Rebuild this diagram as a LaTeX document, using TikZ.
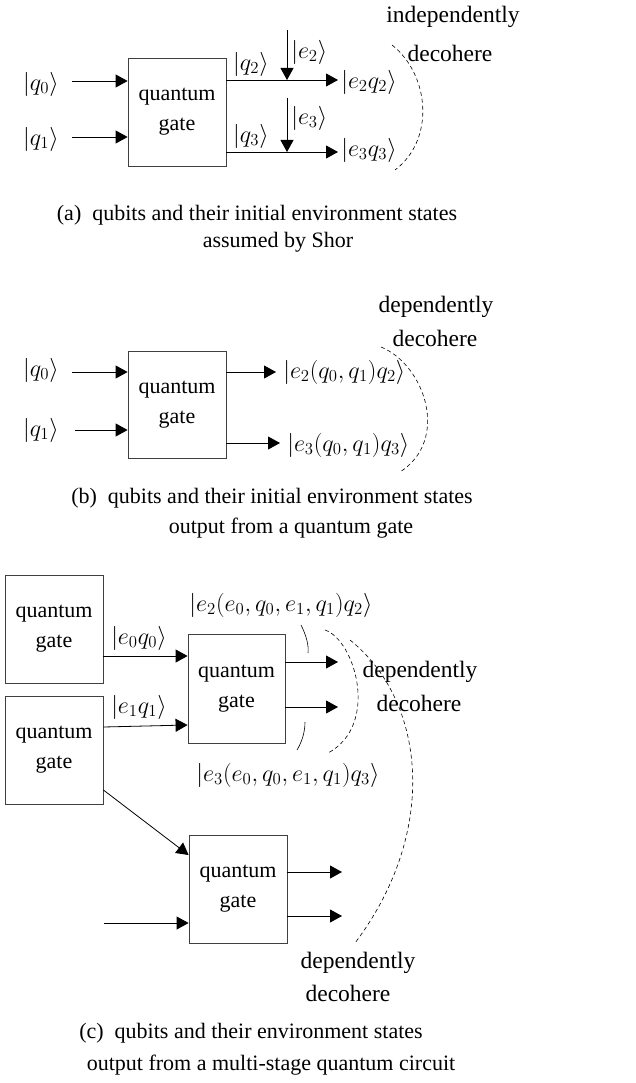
\documentclass[tikz,border=0pt]{standalone}
\usepackage{fontspec}
\setmainfont{Liberation Serif}
\usetikzlibrary{arrows.meta}
\tikzset{
 gate/.style={draw=black!75, line width=0.8pt, minimum width=98pt, minimum height=108pt, inner sep=0pt, align=center, font=\fontsize{22}{30}\selectfont},
 arr/.style={line width=0.8pt, -{Triangle[length=12pt,width=13pt]}},
 lbl/.style={font=\fontsize{17.28}{20}\selectfont, inner sep=0pt, scale=1.4},
 note/.style={font=\fontsize{23.5}{28}\selectfont, inner sep=0pt},
 captxt/.style={font=\fontsize{22}{26}\selectfont, inner sep=0pt},
 dec/.style={line width=0.6pt, dash pattern=on 4pt off 3pt},
 brc/.style={line width=0.6pt}
}
\begin{document}
\begin{tikzpicture}[x=1pt,y=-1pt]
\useasboundingbox (0,0) rectangle (635,1083);
% ---------- (a)
\node[gate] (ga) at (177,112) {quantum\\gate};
\node[lbl] (qa0) at (41,84) {$|q_0\rangle$};
\node[lbl] (qa1) at (41,139) {$|q_1\rangle$};
\coordinate (qa0s) at (72,81);
\coordinate (qa1s) at (72,137);
\draw[arr] (qa0s) -- (qa0s -| ga.west);
\draw[arr] (qa1s) -- (qa1s -| ga.west);
\coordinate (oa2) at (338,80);
\coordinate (oa3) at (338,152);
\draw[arr] (oa2 -| ga.east) -- (oa2);
\draw[arr] (oa3 -| ga.east) -- (oa3);
\node[lbl, anchor=west] (e2q2) at (341,82) {$|e_2q_2\rangle$};
\node[lbl, anchor=west] (e3q3) at (341,150) {$|e_3q_3\rangle$};
\node[lbl] (qa2) at (251,64) {$|q_2\rangle$};
\node[lbl] (qa3) at (251,136) {$|q_3\rangle$};
\coordinate (ea2) at (287,30);
\coordinate (ea3) at (287,98);
\draw[arr] (ea2) -- (ea2 |- oa2);
\draw[arr] (ea3) -- (ea3 |- oa3);
\node[lbl, anchor=west] (e2) at (291,52) {$|e_2\rangle$};
\node[lbl, anchor=west] (e3) at (291,118) {$|e_3\rangle$};
\node[note] (inda) at (453,17) {independently};
\node[note] (deca) at (450,53) {decohere};
\draw[dec] (392,45) .. controls (430,75) and (435,140) .. (395,170);
\node[captxt] (capa1) at (257,215) {(a)\enspace qubits and their initial environment states};
\node[captxt] (capa2) at (278,242) {assumed by Shor};
% ---------- (b)
\node[gate, minimum height=107pt] (gb) at (177,405) {quantum\\gate};
\node[lbl] (qb0) at (41,370) {$|q_0\rangle$};
\node[lbl] (qb1) at (41,430) {$|q_1\rangle$};
\coordinate (qb0s) at (72,372);
\coordinate (qb1s) at (75,430);
\draw[arr] (qb0s) -- (qb0s -| gb.west);
\draw[arr] (qb1s) -- (qb1s -| gb.west);
\coordinate (ob2) at (276,372);
\coordinate (ob3) at (280,443);
\draw[arr] (ob2 -| gb.east) -- (ob2);
\draw[arr] (ob3 -| gb.east) -- (ob3);
\node[lbl, anchor=west] (eb2) at (283,372) {$|e_2(q_0,q_1)q_2\rangle$};
\node[lbl, anchor=west] (eb3) at (287,445) {$|e_3(q_0,q_1)q_3\rangle$};
\node[note] (depb) at (436,307) {dependently};
\node[note] (decb) at (435,338) {decohere};
\draw[dec] (381,347) .. controls (425,365) and (450,440) .. (400,472);
\node[captxt] (capb1) at (272,498) {(b)\enspace qubits and their initial environment states};
\node[captxt] (capb2) at (291,528) {output from a quantum gate};
% ---------- (c)
\node[gate] (gc1) at (54,629) {quantum\\gate};
\node[gate] (gc2) at (54,750) {quantum\\gate};
\node[gate, minimum width=97pt, minimum height=109pt] (gc3) at (236.5,688.5) {quantum\\gate};
\node[gate] (gc4) at (238,889) {quantum\\gate};
\draw[arr] (gc1.east |- 0,656) -- (gc3.west |- 0,656);
\draw[arr] (gc2.east |- 0,727) -- (gc3.west |- 0,725);
\node[lbl] (e0q0) at (139,638) {$|e_0q_0\rangle$};
\node[lbl] (e1q1) at (139,707) {$|e_1q_1\rangle$};
\coordinate (oc2) at (338,662);
\coordinate (oc3) at (338,707);
\draw[arr] (oc2 -| gc3.east) -- (oc2);
\draw[arr] (oc3 -| gc3.east) -- (oc3);
\node[lbl] (ec2) at (281,605) {$|e_2(e_0,q_0,e_1,q_1)q_2\rangle$};
\node[lbl] (ec3) at (288,775) {$|e_3(e_0,q_0,e_1,q_1)q_3\rangle$};
\draw[brc] (301,625) .. controls (306,635) and (309,645) .. (308,653);
\draw[brc] (305,722) .. controls (305,735) and (300,745) .. (297,750);
\draw[dec] (325,630) .. controls (355,640) and (380,725) .. (328,753);
\draw[dec] (350,640) .. controls (425,700) and (440,830) .. (355,943);
\node[note] (depc) at (420,672) {dependently};
\node[note] (decc) at (419,703) {decohere};
\draw[arr] (gc2.east |- 0,790) -- (gc4.west |- 0,855);
\coordinate (c4in) at (104,923);
\draw[arr] (c4in) -- (c4in -| gc4.west);
\coordinate (od2) at (342,872);
\coordinate (od3) at (342,916);
\draw[arr] (od2 -| gc4.east) -- (od2);
\draw[arr] (od3 -| gc4.east) -- (od3);
\node[note] (depd) at (358,963) {dependently};
\node[note] (decd) at (348,993) {decohere};
\node[captxt] (capc1) at (251,1033) {(c)\enspace qubits and their environment states};
\node[captxt] (capc2) at (271,1065) {output from a multi-stage quantum circuit};
\end{tikzpicture}
\end{document}
